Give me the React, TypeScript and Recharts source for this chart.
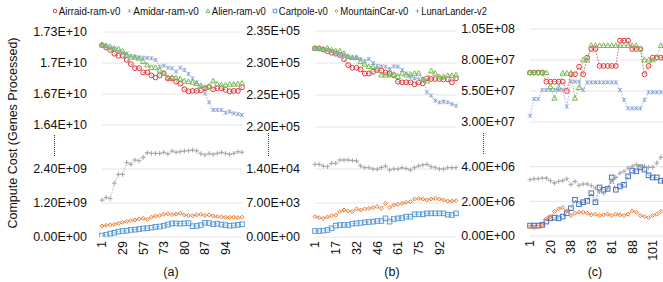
import React from 'react';
import { LineChart, Line, XAxis, YAxis, CartesianGrid } from 'recharts';

// ---------------- Category tick labels (every 5th point is labelled) ----------------
const xLabelsA = ['1', '29', '57', '73', '80', '87', '94'];
const xLabelsB = ['1', '17', '32', '46', '61', '75', '92'];
const xLabelsC = ['1', '20', '38', '63', '81', '88', '101'];

// ---------------- Y tick values / labels ----------------
const yTicksTopA = [1.64e10, 1.67e10, 1.7e10, 1.73e10];
const yLabelsTopA = ['1.64E+10', '1.67E+10', '1.7E+10', '1.73E+10'];
const yTicksBotA = [0, 1.2e9, 2.4e9];
const yLabelsBotA = ['0.00E+00', '1.20E+09', '2.40E+09'];

const yTicksTopB = [2.2e5, 2.25e5, 2.3e5, 2.35e5];
const yLabelsTopB = ['2.20E+05', '2.25E+05', '2.30E+05', '2.35E+05'];
const yTicksBotB = [0, 7e3, 1.4e4];
const yLabelsBotB = ['0.00E+00', '7.00E+03', '1.40E+04'];

const yTicksTopC = [3e7, 5.5e7, 8e7, 1.05e8];
const yLabelsTopC = ['3.00E+07', '5.50E+07', '8.00E+07', '1.05E+08'];
const yTicksBotC = [0, 2e6, 4e6];
const yLabelsBotC = ['0.00E+00', '2.00E+06', '4.00E+06'];

// ---------------- Panel (a) series (units: top 1e10, bottom 1e9) ----------------
const airraidA = [1.7174, 1.715, 1.7126, 1.709, 1.707, 1.707, 1.703, 1.699, 1.695, 1.695, 1.691, 1.691, 1.688, 1.686, 1.688, 1.69, 1.685, 1.685, 1.682, 1.68, 1.6745, 1.6726, 1.673, 1.673, 1.6735, 1.6755, 1.677, 1.6745, 1.6755, 1.6755, 1.674, 1.6726, 1.673, 1.673, 1.6765];
const amidarA = [1.7174, 1.7158, 1.7142, 1.7136, 1.711, 1.7095, 1.709, 1.7068, 1.7058, 1.7052, 1.7052, 1.7048, 1.7045, 1.703, 1.6964, 1.6974, 1.6955, 1.6949, 1.6916, 1.6955, 1.6932, 1.6894, 1.685, 1.6813, 1.677, 1.6706, 1.6619, 1.6545, 1.6545, 1.6545, 1.6519, 1.6529, 1.6513, 1.6505, 1.6497];
const alienA = [1.7174, 1.7168, 1.7158, 1.7142, 1.7136, 1.7116, 1.7077, 1.7055, 1.7055, 1.7045, 1.7013, 1.698, 1.6955, 1.6955, 1.693, 1.69, 1.6858, 1.6858, 1.6855, 1.6845, 1.6825, 1.6819, 1.6813, 1.68, 1.678, 1.6761, 1.6774, 1.6826, 1.6797, 1.6787, 1.6787, 1.6794, 1.6794, 1.6797, 1.6803];
const cartpoleA = [0.05, 0.08, 0.12, 0.15, 0.19, 0.21, 0.22, 0.25, 0.26, 0.28, 0.3, 0.31, 0.33, 0.36, 0.37, 0.4, 0.44, 0.48, 0.48, 0.47, 0.48, 0.49, 0.38, 0.39, 0.42, 0.5, 0.49, 0.45, 0.47, 0.44, 0.42, 0.4, 0.41, 0.43, 0.45];
const mountainCarA = [0.39, 0.41, 0.43, 0.45, 0.48, 0.52, 0.55, 0.58, 0.6, 0.64, 0.66, 0.62, 0.7, 0.74, 0.76, 0.8, 0.82, 0.79, 0.81, 0.84, 0.78, 0.76, 0.75, 0.78, 0.8, 0.76, 0.78, 0.74, 0.72, 0.71, 0.7, 0.69, 0.7, 0.68, 0.7];
const lunarLanderA = [1.3, 1.4, 1.36, 1.9, 2.21, 2.21, 2.63, 2.565, 2.72, 2.69, 2.81, 2.976, 2.953, 2.953, 2.95, 2.988, 2.93, 3.035, 2.99, 3.01, 3.035, 3.047, 3.07, 3.04, 2.94, 2.894, 2.95, 2.92, 2.953, 2.988, 2.95, 2.918, 2.953, 3.01, 2.99];

// ---------------- Panel (b) series (units: top 1e5, bottom 1e3) ----------------
const airraidB = [2.3229, 2.3225, 2.321, 2.3185, 2.316, 2.3145, 2.3125, 2.306, 2.2967, 2.2925, 2.2925, 2.29, 2.2836, 2.2836, 2.2862, 2.289, 2.288, 2.2852, 2.2836, 2.281, 2.2708, 2.2698, 2.2698, 2.2698, 2.2667, 2.2693, 2.2682, 2.276, 2.275, 2.275, 2.275, 2.2745, 2.2745, 2.2698, 2.276];
const amidarB = [2.3229, 2.3219, 2.3219, 2.3203, 2.3188, 2.3156, 2.3125, 2.3125, 2.3099, 2.3083, 2.3083, 2.3063, 2.3036, 2.3063, 2.3, 2.2958, 2.2948, 2.2943, 2.2906, 2.2948, 2.2943, 2.2891, 2.2839, 2.2786, 2.276, 2.2745, 2.2745, 2.2542, 2.249, 2.2411, 2.2385, 2.2396, 2.2385, 2.2359, 2.2333];
const alienB = [2.3229, 2.3229, 2.3219, 2.3229, 2.3203, 2.3188, 2.3188, 2.315, 2.3099, 2.3083, 2.3083, 2.302, 2.2979, 2.2943, 2.2943, 2.2891, 2.2812, 2.2812, 2.2812, 2.2823, 2.2786, 2.2839, 2.2812, 2.2823, 2.2839, 2.2839, 2.2745, 2.2719, 2.2875, 2.2839, 2.2786, 2.2786, 2.2802, 2.2802, 2.2812];
const cartpoleB = [1.24, 1.24, 1.3, 1.44, 1.78, 2.33, 2.47, 2.47, 2.47, 2.75, 2.81, 2.9, 3.02, 3.09, 3.16, 3.29, 3.29, 3.84, 3.16, 3.71, 3.84, 3.9, 4.19, 4.19, 4.67, 4.67, 4.67, 4.87, 4.87, 4.87, 4.87, 4.87, 4.6, 4.53, 4.87];
const mountainCarB = [4.19, 3.98, 3.84, 4.1, 4.39, 4.5, 5.22, 5.56, 5.35, 5.22, 5.77, 5.56, 5.77, 5.9, 6.04, 6.25, 5.9, 6.93, 6.04, 6.59, 6.73, 6.9, 7.14, 7.28, 7.82, 7.96, 7.82, 7.62, 7.82, 7.96, 7.82, 7.62, 7.41, 7.41, 7.5];
const lunarLanderB = [14.96, 14.96, 14.6, 14.48, 15.17, 15.17, 15.85, 15.85, 15.85, 15.75, 15.65, 14.62, 14.28, 14.28, 14.0, 13.93, 14.3, 14.62, 13.79, 14.0, 14.0, 14.28, 14.1, 13.79, 14.28, 14.62, 14.82, 14.96, 14.48, 14.28, 14.0, 14.0, 14.28, 14.28, 14.28];

// ---------------- Panel (c) series (units: top 1e7, bottom 1e6) ----------------
const airraidC = [6.98, 6.98, 6.98, 6.98, 6.25, 6.25, 6.25, 6.25, 6.25, 5.5, 6.85, 6.85, 7.46, 6.85, 8.19, 8.89, 8.89, 7.52, 7.52, 7.52, 7.52, 7.52, 9.56, 9.56, 9.56, 8.89, 8.89, 8.89, 6.85, 7.52, 8.19, 8.19, 8.19, 8.19, 8.19];
const amidarC = [3.51, 4.86, 4.86, 5.58, 5.58, 5.58, 5.58, 5.58, 5.58, 4.24, 6.25, 6.25, 6.25, 5.58, 6.2, 6.2, 6.2, 6.2, 6.2, 6.2, 6.2, 6.2, 5.58, 4.78, 4.1, 4.1, 4.1, 4.1, 4.78, 5.4, 5.4, 5.4, 5.4, 5.4, 5.4];
const alienC = [6.98, 6.98, 6.98, 6.98, 6.98, 5.85, 4.91, 5.77, 6.93, 6.93, 6.93, 4.91, 5.77, 8.0, 8.0, 9.16, 9.16, 9.16, 9.16, 9.16, 9.16, 9.16, 9.16, 9.16, 9.16, 9.16, 9.16, 8.89, 8.0, 8.0, 8.0, 8.19, 9.16, 9.16, 9.16];
const cartpoleC = [0.6, 0.6, 0.6, 0.64, 0.83, 1.02, 1.06, 1.02, 1.12, 1.31, 1.6, 2.09, 1.84, 1.95, 2.03, 2.47, 1.95, 2.8, 2.67, 2.72, 3.38, 2.67, 2.86, 2.96, 3.44, 3.77, 3.73, 3.96, 3.83, 3.5, 3.38, 3.38, 3.19, 3.19, 3.19];
const mountainCarC = [0.54, 0.48, 0.54, 0.64, 0.99, 1.12, 1.41, 1.57, 1.64, 1.45, 1.18, 1.31, 1.37, 1.37, 1.31, 1.22, 1.26, 1.18, 1.22, 1.26, 1.18, 1.26, 1.22, 1.18, 1.26, 1.45, 1.37, 1.18, 1.12, 1.06, 1.18, 1.26, 1.41, 1.45, 1.45];
const lunarLanderC = [3.25, 3.3, 3.3, 3.34, 3.34, 3.19, 3.05, 3.15, 3.19, 3.3, 2.96, 3.15, 2.92, 3.0, 3.0, 2.9, 2.76, 2.57, 2.47, 2.76, 3.15, 3.38, 3.63, 3.73, 3.92, 4.02, 4.12, 4.02, 4.02, 3.96, 3.96, 4.21, 4.54, 4.7, 4.8];

// ---------------- Legend ----------------
const seriesNames = ['Airraid-ram-v0', 'Amidar-ram-v0', 'Alien-ram-v0', 'Cartpole-v0', 'MountainCar-v0', 'LunarLander-v2'];

// ---------------- Styles ----------------
const RED = '#e2373c';
const AMIDAR = '#8eaadb';
const ALIEN = '#78bb55';
const CART = '#5b9bd5';
const CART_C = '#4472c4';
const ORANGE = '#ed7d31';
const GRAY = '#a5a5a5';
const FONT = "'Liberation Sans', Arial, sans-serif";

type Shape = 'circle' | 'star' | 'triangle' | 'square' | 'diamond' | 'plus';

function Marker({ shape, cx, cy, color, s = 1 }: { shape: Shape; cx: number; cy: number; color: string; s?: number }) {
  switch (shape) {
    case 'circle':
      return <circle cx={cx} cy={cy} r={2.4 * s} fill="none" stroke={color} strokeWidth={1} />;
    case 'star': {
      const d = 2 * s;
      return (
        <path d={`M${cx - d},${cy - d}L${cx + d},${cy + d}M${cx - d},${cy + d}L${cx + d},${cy - d}M${cx},${cy - d}L${cx},${cy + d}`} stroke={color} strokeWidth={1} fill="none" />
      );
    }
    case 'triangle':
      return <path d={`M${cx},${cy - 2.8 * s}L${cx + 2.6 * s},${cy + 1.9 * s}L${cx - 2.6 * s},${cy + 1.9 * s}Z`} fill="none" stroke={color} strokeWidth={1} />;
    case 'square':
      return <rect x={cx - 2.3 * s} y={cy - 2.3 * s} width={4.6 * s} height={4.6 * s} fill="none" stroke={color} strokeWidth={1} />;
    case 'diamond':
      return <path d={`M${cx},${cy - 2 * s}L${cx + 2 * s},${cy}L${cx},${cy + 2 * s}L${cx - 2 * s},${cy}Z`} fill="none" stroke={color} strokeWidth={1} />;
    case 'plus':
    default: {
      const d = 2.4 * s;
      return <path d={`M${cx - d},${cy}L${cx + d},${cy}M${cx},${cy - d}L${cx},${cy + d}`} stroke={color} strokeWidth={1} fill="none" />;
    }
  }
}

type SeriesDef = { key: string; values: number[]; color: string; shape: Shape };

function makeRows(series: SeriesDef[], unit: number) {
  return series[0].values.map((_, i) => {
    const row: Record<string, number> = { idx: i };
    series.forEach((s) => {
      row[s.key] = s.values[i] * unit;
    });
    return row;
  });
}

const makeDot = (shape: Shape, color: string) => (p: any) => {
  const { cx, cy, index } = p;
  if (cx == null || cy == null) return <g key={`d${index}`} />;
  return (
    <g key={`d${index}`}>
      <Marker shape={shape} cx={cx} cy={cy} color={color} />
    </g>
  );
};

const makeXTick = (labels: string[]) => (props: any) => {
  const { x, y, payload } = props;
  const label = labels[Math.round(Number(payload.value) / 5)] ?? '';
  return (
    <text x={x} y={y} transform={`rotate(-90 ${x} ${y})`} textAnchor="end" dy="0.35em" fontSize={12.5} fill="#111" fontFamily={FONT}>
      {label}
    </text>
  );
};

type SectionProps = {
  left: number;
  top: number;
  plotLeft: number;
  plotRight: number;
  plotTop: number;
  plotBottom: number;
  series: SeriesDef[];
  unit: number;
  domain: [number, number];
  ticks: number[];
  tickLabels: string[];
  xLabels?: string[];
};

function Section({ left, top, plotLeft, plotRight, plotTop, plotBottom, series, unit, domain, ticks, tickLabels, xLabels }: SectionProps) {
  const rows = makeRows(series, unit);
  const showX = !!xLabels;
  const width = plotRight - left + 8;
  const bottomPad = showX ? 0 : 10;
  const height = showX ? 282 - top : plotBottom - top + bottomPad;
  const xHeight = showX ? 282 - plotBottom : 0;
  const fmt = (v: number) => {
    const i = ticks.findIndex((t) => Math.abs(t - v) <= Math.abs(t) * 1e-6 + 1e-9);
    return i >= 0 ? tickLabels[i] : '';
  };
  return (
    <div style={{ position: 'absolute', left, top, width, height }}>
      <LineChart width={width} height={height} data={rows} margin={{ top: plotTop - top, right: 8, bottom: bottomPad, left: 0 }}>
        <CartesianGrid vertical={false} stroke="#e6e6e6" />
        {showX ? (
          <XAxis dataKey="idx" interval={4} axisLine={false} tickLine={false} tickSize={0} tickMargin={4} height={xHeight} tick={makeXTick(xLabels as string[])} />
        ) : (
          <XAxis dataKey="idx" hide />
        )}
        <YAxis
          type="number"
          domain={domain}
          ticks={ticks}
          interval={0}
          allowDataOverflow
          width={plotLeft - left}
          axisLine={false}
          tickLine={false}
          tickSize={0}
          tickMargin={15}
          tickFormatter={fmt}
          tick={{ fontSize: 12.5, fill: '#111', fontFamily: FONT }}
        />
        {series.map((s) => (
          <Line
            key={s.key}
            dataKey={s.key}
            type="linear"
            stroke={s.color}
            strokeWidth={1}
            strokeDasharray="1.5 1.5"
            strokeOpacity={0.85}
            dot={makeDot(s.shape, s.color)}
            activeDot={false}
            isAnimationActive={false}
          />
        ))}
      </LineChart>
    </div>
  );
}

// legend layout: marker x, text start, fitted text width
const legendShapes: Shape[] = ['circle', 'star', 'triangle', 'square', 'diamond', 'plus'];
const legendColors = [RED, AMIDAR, ALIEN, CART, ORANGE, GRAY];
const legendMarkerX = [55, 129.5, 208, 275, 336.5, 417.5];
const legendTextW = [61.5, 65.5, 54, 49, 68, 65.5];

export default function App() {
  const topA: SeriesDef[] = [
    { key: 'airraid', values: airraidA, color: RED, shape: 'circle' },
    { key: 'amidar', values: amidarA, color: AMIDAR, shape: 'star' },
    { key: 'alien', values: alienA, color: ALIEN, shape: 'triangle' },
  ];
  const botA: SeriesDef[] = [
    { key: 'cartpole', values: cartpoleA, color: CART, shape: 'square' },
    { key: 'mountain', values: mountainCarA, color: ORANGE, shape: 'diamond' },
    { key: 'lunar', values: lunarLanderA, color: GRAY, shape: 'plus' },
  ];
  const topB: SeriesDef[] = [
    { key: 'airraid', values: airraidB, color: RED, shape: 'circle' },
    { key: 'amidar', values: amidarB, color: AMIDAR, shape: 'star' },
    { key: 'alien', values: alienB, color: ALIEN, shape: 'triangle' },
  ];
  const botB: SeriesDef[] = [
    { key: 'cartpole', values: cartpoleB, color: CART, shape: 'square' },
    { key: 'mountain', values: mountainCarB, color: ORANGE, shape: 'diamond' },
    { key: 'lunar', values: lunarLanderB, color: GRAY, shape: 'plus' },
  ];
  const topC: SeriesDef[] = [
    { key: 'airraid', values: airraidC, color: RED, shape: 'circle' },
    { key: 'amidar', values: amidarC, color: AMIDAR, shape: 'star' },
    { key: 'alien', values: alienC, color: ALIEN, shape: 'triangle' },
  ];
  const botC: SeriesDef[] = [
    { key: 'cartpole', values: cartpoleC, color: CART_C, shape: 'square' },
    { key: 'mountain', values: mountainCarC, color: ORANGE, shape: 'diamond' },
    { key: 'lunar', values: lunarLanderC, color: GRAY, shape: 'plus' },
  ];

  return (
    <div style={{ position: 'absolute', left: 0, top: 0, width: 663, height: 282, overflow: 'hidden', background: '#fff', fontFamily: FONT }}>
      {/* panel (a) */}
      <Section left={0} top={0} plotLeft={102} plotRight={242} plotTop={32} plotBottom={125} series={topA} unit={1e10} domain={[1.64e10, 1.73e10]} ticks={yTicksTopA} tickLabels={yLabelsTopA} />
      <Section left={0} top={140} plotLeft={102} plotRight={242} plotTop={135} plotBottom={237} series={botA} unit={1e9} domain={[0, 3.6e9]} ticks={yTicksBotA} tickLabels={yLabelsBotA} xLabels={xLabelsA} />
      {/* panel (b) */}
      <Section left={240} top={0} plotLeft={315} plotRight={456} plotTop={31} plotBottom={127} series={topB} unit={1e5} domain={[2.2e5, 2.35e5]} ticks={yTicksTopB} tickLabels={yLabelsTopB} />
      <Section left={240} top={140} plotLeft={315} plotRight={456} plotTop={135} plotBottom={237} series={botB} unit={1e3} domain={[0, 2.1e4]} ticks={yTicksBotB} tickLabels={yLabelsBotB} xLabels={xLabelsB} />
      {/* panel (c) */}
      <Section left={455} top={0} plotLeft={530} plotRight={669} plotTop={29} plotBottom={122} series={topC} unit={1e7} domain={[3e7, 1.05e8]} ticks={yTicksTopC} tickLabels={yLabelsTopC} />
      <Section left={455} top={140} plotLeft={530} plotRight={669} plotTop={132} plotBottom={236} series={botC} unit={1e6} domain={[0, 6e6]} ticks={yTicksBotC} tickLabels={yLabelsBotC} xLabels={xLabelsC} />

      <svg width={663} height={282} style={{ position: 'absolute', left: 0, top: 0, pointerEvents: 'none' }}>
        {/* legend */}
        {seriesNames.map((name, i) => (
          <g key={name}>
            <Marker shape={legendShapes[i]} cx={legendMarkerX[i]} cy={11} color={legendColors[i]} s={0.75} />
            <text
              x={legendMarkerX[i] + 3.8}
              y={11}
              dy="0.35em"
              fontSize={11.5}
              fill="#111"
              fontFamily={FONT}
              textLength={legendTextW[i]}
              lengthAdjust="spacingAndGlyphs"
            >
              {name}
            </text>
          </g>
        ))}
        {/* axis title */}
        <text x={13} y={133} transform="rotate(-90 13 133)" textAnchor="middle" dy="0.35em" fontSize={12.5} fill="#111" fontFamily={FONT}>
          Compute Cost (Genes Processed)
        </text>
        {/* axis break marks */}
        <line x1={54.5} y1={135} x2={54.5} y2={156} stroke="#333" strokeWidth={1} strokeDasharray="1 1" />
        <line x1={268.5} y1={133} x2={268.5} y2={156} stroke="#333" strokeWidth={1} strokeDasharray="1 1" />
        <line x1={483.5} y1={133} x2={483.5} y2={155} stroke="#333" strokeWidth={1} strokeDasharray="1 1" />
        {/* panel captions */}
        <text x={171} y={272} textAnchor="middle" dy="0.35em" fontSize={12.5} fill="#111" fontFamily={FONT}>(a)</text>
        <text x={392} y={272} textAnchor="middle" dy="0.35em" fontSize={12.5} fill="#111" fontFamily={FONT}>(b)</text>
        <text x={595} y={272} textAnchor="middle" dy="0.35em" fontSize={12.5} fill="#111" fontFamily={FONT}>(c)</text>
      </svg>
    </div>
  );
}
